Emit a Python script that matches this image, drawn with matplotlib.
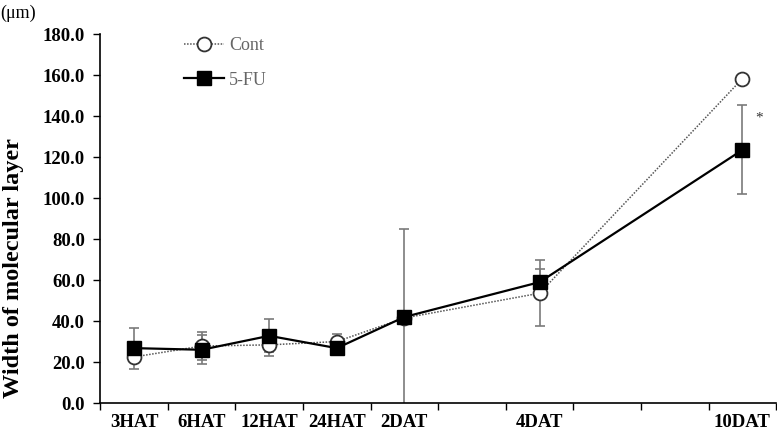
import numpy as np
import matplotlib
matplotlib.use("Agg")
import matplotlib.pyplot as plt

plt.rcParams['font.family'] = ['Liberation Serif', 'DejaVu Serif']

# category slots (blank slots keep the uneven time spacing)
categories = ["3HAT", "6HAT", "12HAT", "24HAT", "2DAT", "", "4DAT", "", "", "10DAT"]
nan = np.nan
cont = [22.5, 27.8, 28.4, 30.0, 41.5, nan, 53.6, nan, nan, 158.3]
cont_err = [1.5, 7.0, 5.2, 3.8, 1.0, nan, 16.0, nan, nan, 1.0]
fu = [26.8, 26.0, 32.8, 26.8, 42.0, nan, 59.0, nan, nan, 123.5]
fu_err = [10.0, 7.0, 8.0, 1.5, 43.0, nan, 6.5, nan, nan, 21.7]

cont = np.array(cont)
cont_err = np.array(cont_err)
fu = np.array(fu)
fu_err = np.array(fu_err)
xpos = np.arange(len(categories)) + 0.5
ok = ~np.isnan(cont)

fig = plt.figure(figsize=(7.77, 4.32), dpi=100)
ax = fig.add_axes([0.129, 0.067, 0.87, 0.854])

ax.errorbar(xpos[ok], cont[ok], yerr=cont_err[ok], fmt='none', ecolor='#7a7a7a',
            elinewidth=1.2, capsize=3.5, capthick=1.2, zorder=2)
ax.errorbar(xpos[ok], fu[ok], yerr=fu_err[ok], fmt='none', ecolor='#7a7a7a',
            elinewidth=1.2, capsize=3.5, capthick=1.2, zorder=2)

ax.plot(xpos[ok], cont[ok], ls=(0, (1, 1)), color='#555555', lw=1.1, marker='o',
        ms=10, mfc='white', mec='#333333', mew=1.3, label='Cont', zorder=3)
ax.plot(xpos[ok], fu[ok], ls='-', color='black', lw=1.6, marker='s',
        ms=10, mfc='black', mec='black', label='5-FU', zorder=4)

ax.text(9.75, 139, '*', fontsize=11, color='#333333', ha='center', va='center')

ax.set_xlim(0, len(categories))
ax.set_ylim(0, 180)
ax.set_yticks(np.arange(0, 181, 20))
ax.set_yticklabels(['%.1f' % v for v in np.arange(0, 181, 20)],
                   fontsize=13.5, fontweight='bold')
ax.set_xticks(np.arange(0, len(categories) + 1))
ax.set_xticklabels([])
ax.set_xticks(xpos, minor=True)
ax.set_xticklabels(categories, minor=True, fontsize=13.5, fontweight='bold')
ax.tick_params(axis='x', which='minor', length=0, pad=8)
ax.tick_params(axis='x', which='major', length=5, width=1, direction='out')
ax.tick_params(axis='y', length=5, width=1, direction='out', pad=6)

for s in ['top', 'right']:
    ax.spines[s].set_visible(False)
for s in ['left', 'bottom']:
    ax.spines[s].set_linewidth(1.2)

fig.text(14 / 777, 1 - 268 / 432, 'Width of molecular layer', fontsize=17.5,
         fontweight='bold', rotation=90, ha='center', va='center')
fig.text(0.0, 0.99, '(\u03bcm)', fontsize=13, va='top', ha='left')

leg = ax.legend(loc='upper left', bbox_to_anchor=(0.1, 1.035), frameon=False,
                fontsize=13, handlelength=2.2, labelspacing=0.95, handletextpad=0.3,
                labelcolor='#666666')

fig.savefig('out.png', dpi=100)
